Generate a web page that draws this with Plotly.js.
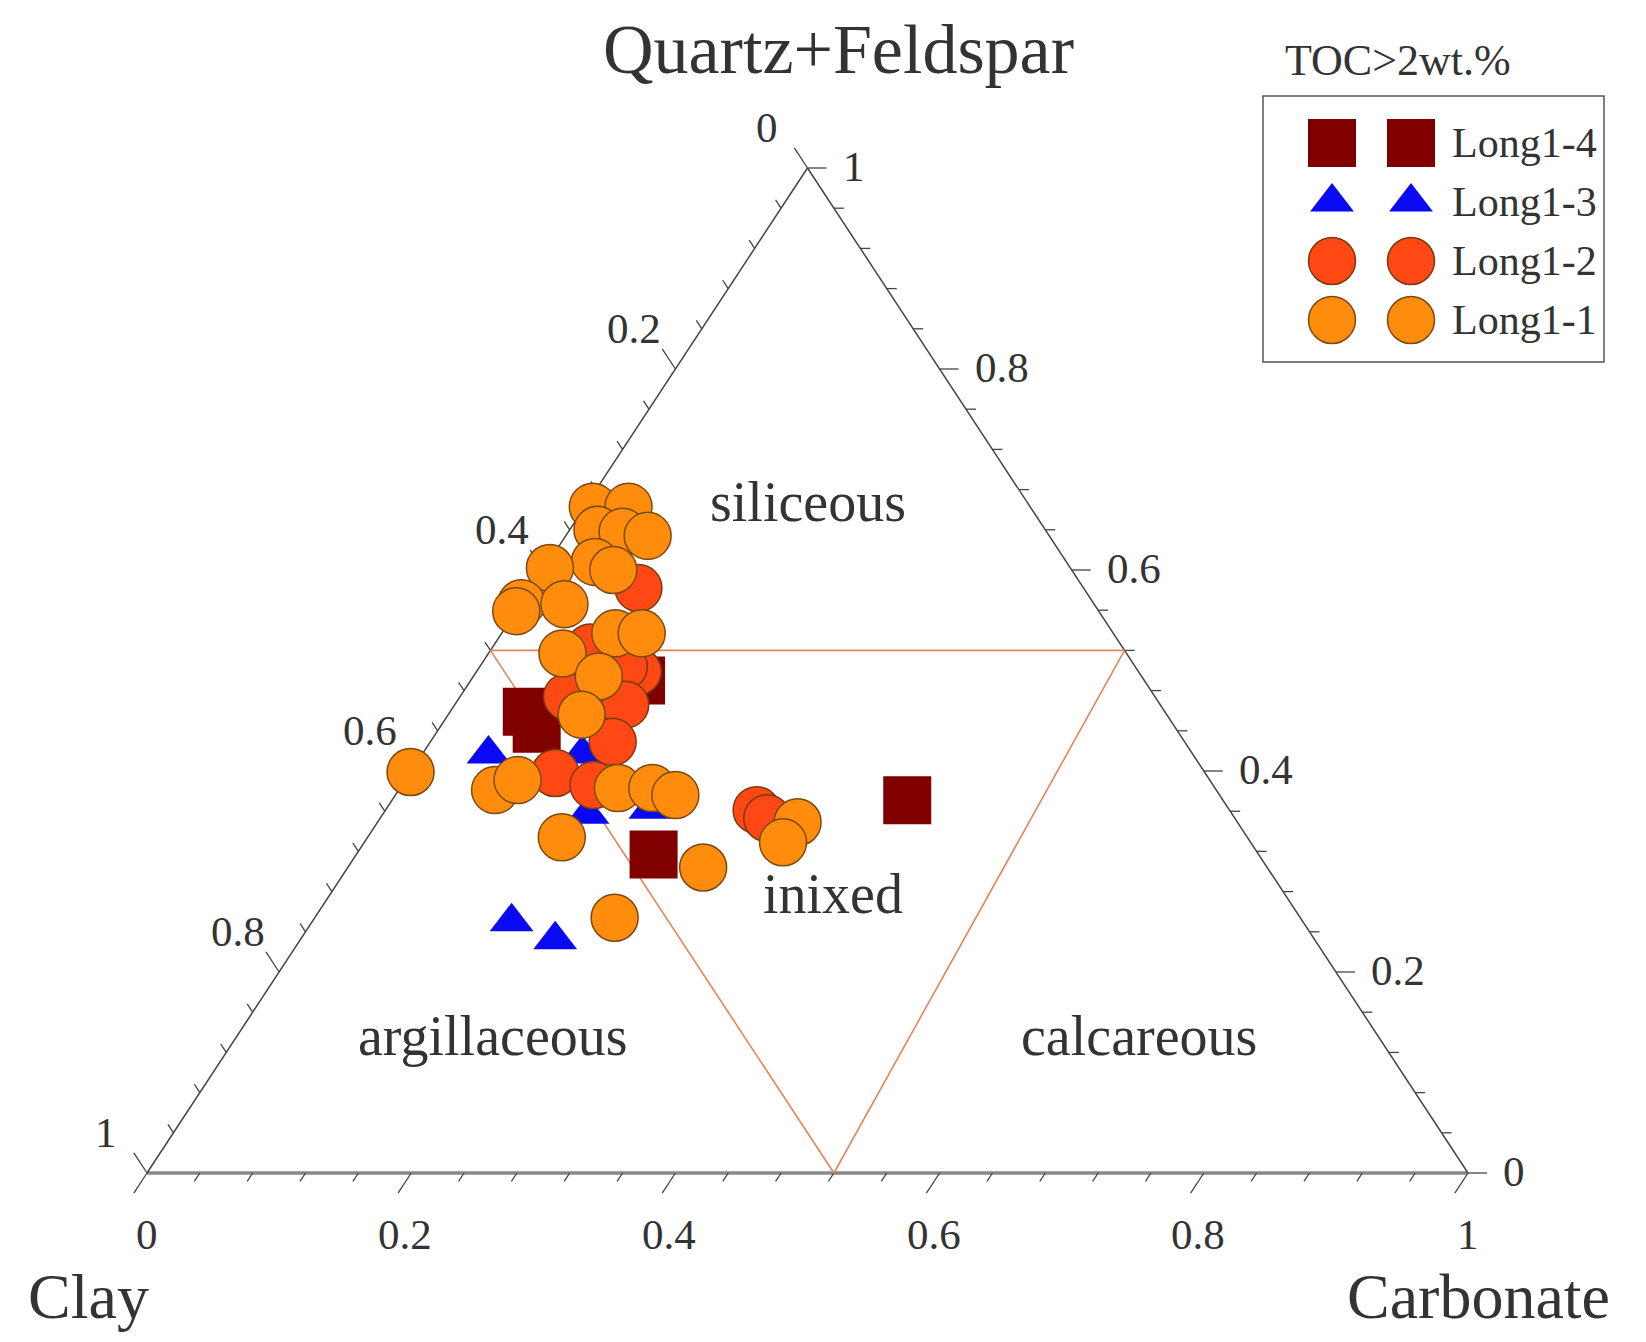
<!DOCTYPE html>
<html><head><meta charset="utf-8">
<script src="https://cdn.plot.ly/plotly-3.0.1.min.js"></script>
<style>html,body{margin:0;padding:0;background:#fff}#chart{width:1646px;height:1342px}</style>
</head><body><div id="chart"></div>
<script>
// ---------------- data (fractions: Quartz+Feldspar, Clay, Carbonate) ----------------
const seriesNames = ['Long1-4', 'Long1-3', 'Long1-2', 'Long1-1'];

const long14_qf   = [0.459, 0.442, 0.490, 0.317, 0.371];
const long14_clay = [0.483, 0.484, 0.381, 0.458, 0.239];
const long14_carb = [0.058, 0.074, 0.129, 0.225, 0.390];

const long13_qf   = [0.417, 0.417, 0.357, 0.362, 0.250, 0.232];
const long13_clay = [0.533, 0.462, 0.488, 0.438, 0.599, 0.575];
const long13_carb = [0.050, 0.121, 0.155, 0.200, 0.151, 0.193];

const long12_qf   = [0.582, 0.523, 0.499, 0.504, 0.474, 0.466, 0.429, 0.398, 0.386, 0.361, 0.353];
const long12_clay = [0.337, 0.403, 0.379, 0.387, 0.445, 0.405, 0.433, 0.492, 0.469, 0.358, 0.354];
const long12_carb = [0.081, 0.074, 0.122, 0.109, 0.081, 0.129, 0.138, 0.110, 0.145, 0.281, 0.293];

const long11_qf   = [0.663, 0.663, 0.640, 0.638, 0.634, 0.608, 0.600, 0.602, 0.567, 0.559, 0.566, 0.537, 0.537, 0.517,
                     0.494, 0.456, 0.399, 0.381, 0.391, 0.383, 0.383, 0.376, 0.334, 0.304, 0.349, 0.329, 0.254];
const long11_clay = [0.331, 0.304, 0.339, 0.321, 0.304, 0.357, 0.347, 0.394, 0.433, 0.441, 0.401, 0.377, 0.357, 0.427,
                     0.411, 0.443, 0.601, 0.546, 0.524, 0.452, 0.426, 0.412, 0.519, 0.427, 0.333, 0.354, 0.519];
const long11_carb = [0.006, 0.033, 0.021, 0.041, 0.062, 0.035, 0.053, 0.004, 0.000, 0.000, 0.033, 0.086, 0.106, 0.056,
                     0.095, 0.101, 0.000, 0.073, 0.085, 0.165, 0.191, 0.212, 0.147, 0.269, 0.318, 0.317, 0.227];

// classification boundary (inner triangle), as ternary points [qf, clay, carb]
const boundaryQF   = [0.52, 0.52, 0.00];
const boundaryClay = [0.48, 0.00, 0.48];
const boundaryCarb = [0.00, 0.48, 0.52];

// tick labels
const tickValues = [0, 0.2, 0.4, 0.6, 0.8, 1];
const tickLabels = ['0', '0.2', '0.4', '0.6', '0.8', '1'];

const regionNames = ['siliceous', 'inixed', 'argillaceous', 'calcareous'];
const legendTitle = 'TOC>2wt.%';

// ---------------- geometry / styles ----------------
const W = 1646, H = 1342;
const PX_L = 147, PX_R = 1468, PY_B = 1173, PY_T = 168;
const KX = PX_R - PX_L, KY = PY_B - PY_T;
const FONT = 'Liberation Serif, Times New Roman, serif';
const TXT = '#333333';

function tx(qf, carb) { return carb + qf / 2; }
function ty(qf) { return qf; }

const styles = {
  'Long1-4': {symbol: 'square', size: 48, color: '#800000', line: {width: 0}},
  'Long1-3': {symbol: 'triangle-up', size: 38, color: '#0a0af2', line: {width: 0}},
  'Long1-2': {symbol: 'circle', size: 47, color: '#ff4814', line: {color: '#7a3a10', width: 1.5}},
  'Long1-1': {symbol: 'circle', size: 47, color: '#ff8c0c', line: {color: '#7a4a12', width: 1.5}}
};
const seriesData = {
  'Long1-4': [long14_qf, long14_clay, long14_carb],
  'Long1-3': [long13_qf, long13_clay, long13_carb],
  'Long1-2': [long12_qf, long12_clay, long12_carb],
  'Long1-1': [long11_qf, long11_clay, long11_carb]
};

const traces = [];
seriesNames.forEach(name => {
  const [q, cl, ca] = seriesData[name];
  traces.push({
    type: 'scatter', mode: 'markers', name: name, showlegend: false,
    x: q.map((v, i) => tx(v, ca[i])), y: q.map(v => ty(v)),
    customdata: q.map((v, i) => [v, cl[i], ca[i]]),
    hovertemplate: name + '<br>Q+F %{customdata[0]}<br>Clay %{customdata[1]}<br>Carb %{customdata[2]}<extra></extra>',
    marker: styles[name]
  });
});

// ---- manual legend (pixel overlay axes) ----
const LEG = {x0: 1263, y0: 96, x1: 1604, y1: 362, colA: 1332, colB: 1411, row0: 143, rowStep: 59, textX: 1450};
seriesNames.forEach((name, i) => {
  const yy = LEG.row0 + i * LEG.rowStep;
  traces.push({
    type: 'scatter', mode: 'markers', name: name + ' (legend)', showlegend: false, hoverinfo: 'skip',
    xaxis: 'x2', yaxis: 'y2',
    x: [LEG.colA, LEG.colB], y: [yy, yy], marker: styles[name]
  });
});

// ---------------- shapes ----------------
const shapes = [];
const edgeColor = '#444444';
function line(x0, y0, x1, y1, color, width) {
  shapes.push({type: 'line', xref: 'x', yref: 'y', x0, y0, x1, y1, line: {color, width}, layer: 'below'});
}
// triangle edges
line(0, 0, 1, 0, '#888888', 3.5);
line(0, 0, 0.5, 1, edgeColor, 1.5);
line(1, 0, 0.5, 1, edgeColor, 1.5);

// ticks every 0.04, major every 0.2
const slantNorm = Math.sqrt((0.5 * KX) ** 2 + KY ** 2);
for (let i = 0; i <= 25; i++) {
  const t = i * 0.04;
  const major = (i % 5 === 0);
  // bottom (carbonate): parallel to left edge, pointing down-left
  let L = major ? 24 : 10;
  let f = L / slantNorm;
  line(t, 0, t - 0.5 * f, -f, edgeColor, 1.3);
  // left (clay = t): point on left edge, parallel to right edge, pointing up-left
  const qL = 1 - t;
  line(qL / 2, qL, qL / 2 - 0.5 * f, qL + f, edgeColor, 1.3);
  // right (qf = t): horizontal, pointing right
  L = major ? 19 : 10;
  line(1 - t / 2, t, 1 - t / 2 + L / KX, t, edgeColor, 1.3);
}
// inner classification triangle
const bx = boundaryQF.map((q, i) => tx(q, boundaryCarb[i]));
const by = boundaryQF.map(q => ty(q));
for (let i = 0; i < 3; i++) {
  const j = (i + 1) % 3;
  line(bx[i], by[i], bx[j], by[j], '#e3845c', 1.6);
}
// legend box
shapes.push({type: 'rect', xref: 'x2', yref: 'y2', x0: LEG.x0, y0: LEG.y0, x1: LEG.x1, y1: LEG.y1,
             line: {color: '#555555', width: 1.5}, fillcolor: 'rgba(0,0,0,0)'});

// ---------------- annotations ----------------
const ann = [];
function txt(text, x, y, size, opts) {
  ann.push(Object.assign({text, x, y, xref: 'x', yref: 'y', showarrow: false,
    font: {family: FONT, size, color: TXT}, xanchor: 'center', yanchor: 'middle'}, opts || {}));
}
tickValues.forEach((v, i) => {
  const lab = tickLabels[i];
  // bottom: carbonate
  txt(lab, v, 0, 43, {xshift: lab.length > 1 ? -6 : 0, yshift: -61});
  // left: clay
  const q = 1 - v;
  txt(lab, q / 2, q, 43, {xshift: -41, yshift: 41});
  // right: quartz+feldspar
  txt(lab, 1 - v / 2, v, 43, {xanchor: 'left', xshift: 33, yshift: 2});
});
// region names (ternary positions: qf, carb)
const regionPos = [[0.668, 0.166], [0.278, 0.380], [0.136, 0.194], [0.136, 0.683]];
regionNames.forEach((n, i) => txt(n, tx(regionPos[i][0], regionPos[i][1]), ty(regionPos[i][0]), 56));

// axis titles
ann.push({text: 'Quartz+Feldspar', xref: 'paper', yref: 'paper', x: 838 / W, y: 1 - 50 / H, showarrow: false,
          font: {family: FONT, size: 70, color: TXT}, xanchor: 'center', yanchor: 'middle'});
ann.push({text: 'Clay', xref: 'paper', yref: 'paper', x: 88 / W, y: 1 - 1296 / H, showarrow: false,
          font: {family: FONT, size: 64, color: TXT}, xanchor: 'center', yanchor: 'middle'});
ann.push({text: 'Carbonate', xref: 'paper', yref: 'paper', x: 1478 / W, y: 1 - 1296 / H, showarrow: false,
          font: {family: FONT, size: 64, color: TXT}, xanchor: 'center', yanchor: 'middle'});
// legend texts
ann.push({text: legendTitle, xref: 'x2', yref: 'y2', x: 1398, y: 60, showarrow: false,
          font: {family: FONT, size: 44, color: TXT}, xanchor: 'center', yanchor: 'middle'});
seriesNames.forEach((n, i) => {
  ann.push({text: n, xref: 'x2', yref: 'y2', x: LEG.textX, y: LEG.row0 + i * LEG.rowStep, showarrow: false,
            font: {family: FONT, size: 42, color: TXT}, xanchor: 'left', yanchor: 'middle'});
});

const layout = {
  width: W, height: H,
  margin: {l: 0, r: 0, t: 0, b: 0, pad: 0},
  paper_bgcolor: '#ffffff', plot_bgcolor: '#ffffff',
  showlegend: false,
  xaxis: {range: [-PX_L / KX, (W - PX_L) / KX], visible: false, fixedrange: true},
  yaxis: {range: [-(H - PY_B) / KY, PY_B / KY], visible: false, fixedrange: true},
  xaxis2: {range: [0, W], overlaying: 'x', visible: false, fixedrange: true},
  yaxis2: {range: [H, 0], overlaying: 'y', visible: false, fixedrange: true},
  shapes: shapes,
  annotations: ann
};

Plotly.newPlot('chart', traces, layout, {displayModeBar: false, staticPlot: true});
</script>
</body></html>
